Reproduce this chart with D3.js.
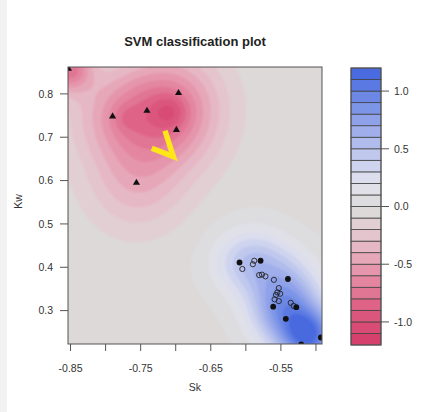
<!DOCTYPE html>
<html><head><meta charset="utf-8">
<script src="https://cdn.jsdelivr.net/npm/d3@7"></script>
<style>html,body{margin:0;padding:0;background:#fff;}svg{display:block;font-family:"Liberation Sans",Arial,sans-serif;}</style>
</head><body>
<script>
// ---- data ----
const xTicks = [-0.85, -0.80, -0.75, -0.70, -0.65, -0.60, -0.55, -0.50];
const xLabels = ["-0.85", "", "-0.75", "", "-0.65", "", "-0.55", ""];
const yTicks = [0.3, 0.4, 0.5, 0.6, 0.7, 0.8];
const yLabels = ["0.3", "0.4", "0.5", "0.6", "0.7", "0.8"];
const barTicks = [-1.0, -0.5, 0.0, 0.5, 1.0];
const barLabels = ["-1.0", "-0.5", "0.0", "0.5", "1.0"];
const levels = d3.range(-12, 13).map(d => d / 10); // -1.2 .. 1.2

// class "triangle" points (all support vectors)
const triSk = [-0.696, -0.741, -0.790, -0.699, -0.756, -0.853];
const triKw = [0.802, 0.761, 0.748, 0.717, 0.595, 0.858];
// class "circle" support vectors (filled)
const svSk = [-0.609, -0.579, -0.540, -0.561, -0.528, -0.543, -0.493, -0.521];
const svKw = [0.411, 0.415, 0.373, 0.309, 0.308, 0.281, 0.238, 0.222];
// class "circle" ordinary points (open)
const opSk = [-0.605, -0.590, -0.588, -0.581, -0.577, -0.572, -0.560, -0.553, -0.555, -0.557, -0.551, -0.559, -0.553, -0.536, -0.532];
const opKw = [0.396, 0.407, 0.415, 0.382, 0.383, 0.379, 0.371, 0.352, 0.342, 0.336, 0.339, 0.326, 0.322, 0.318, 0.311];

// decision function: kernel centres, coefficients, widths (px)
const kSk = [-0.696, -0.741, -0.790, -0.699, -0.756, -0.853, -0.708, -0.772,
             -0.609, -0.579, -0.540, -0.561, -0.528, -0.543, -0.493, -0.521, -0.511];
const kKw = [0.802, 0.761, 0.748, 0.717, 0.595, 0.858, 0.758, 0.745,
             0.411, 0.415, 0.373, 0.309, 0.308, 0.281, 0.238, 0.222, 0.244];
const kAlpha = [-0.29, -0.29, -0.29, -0.29, -0.32, -0.7, -0.2, -0.1,
                0.28, 0.28, 0.28, 0.28, 0.28, 0.28, 0.28, 0.28, 0.5];
const kWidth = [34, 34, 34, 34, 34, 16, 12, 10, 23, 23, 23, 23, 23, 23, 23, 23, 16];
const bias = -0.03;

// annotation (yellow check mark) in data coordinates
const markSk = [-0.7153, -0.7034, -0.7342];
const markKw = [0.715, 0.6553, 0.6747];

// palette stops
const palVals = [-1.2, -0.9, -0.6, -0.3, -0.05, 0.05, 0.2, 0.4, 0.7, 1.0, 1.2];
const palCols = ["#d43c68", "#dc5b81", "#e58ea6", "#e6bfca", "#ddd9d9", "#dddde0", "#e2e3ec", "#c8cfee", "#98a9ea", "#6380e3", "#4064de"];

// ---- layout ----
const W = 437, H = 412;
const plot = {l: 68, r: 322, t: 67, b: 344};
const bar = {l: 351, r: 381, t: 68, b: 345};

const svg = d3.select("body").append("svg").attr("width", W).attr("height", H);
svg.append("rect").attr("width", W).attr("height", H).attr("fill", "#fff");
svg.append("rect").attr("width", 7).attr("height", H).attr("fill", "#f2f2f2");

const x = d3.scaleLinear().domain([-0.8536, -0.4914]).range([plot.l, plot.r]);
const y = d3.scaleLinear().domain([0.223, 0.862]).range([plot.b, plot.t]);
const yb = d3.scaleLinear().domain([-1.2, 1.2]).range([bar.b, bar.t]);
const pal = d3.scaleLinear().domain(palVals).range(palCols).interpolate(d3.interpolateRgb).clamp(true);

function f(px, py) {
  let s = bias;
  for (let i = 0; i < kSk.length; i++) {
    const dx = px - x(kSk[i]), dy = py - y(kKw[i]);
    s += kAlpha[i] * Math.exp(-(dx * dx + dy * dy) / (2 * kWidth[i] * kWidth[i]));
  }
  return Math.max(-1.19, Math.min(1.19, s));
}

// grid
const step = 1.5;
const nx = Math.ceil((plot.r - plot.l) / step) + 1;
const ny = Math.ceil((plot.b - plot.t) / step) + 1;
const vals = new Array(nx * ny);
for (let j = 0; j < ny; j++) for (let i = 0; i < nx; i++) {
  vals[j * nx + i] = f(plot.l + i * step, plot.t + j * step);
}
const thresholds = levels.slice(1, -1);
const contours = d3.contours().size([nx, ny]).thresholds(thresholds)(vals);
const path = d3.geoPath(d3.geoIdentity().scale(step).translate([plot.l - step / 2, plot.t - step / 2]));

const defs = svg.append("defs");
defs.append("clipPath").attr("id", "pc").append("rect")
  .attr("x", plot.l).attr("y", plot.t).attr("width", plot.r - plot.l).attr("height", plot.b - plot.t);
defs.append("filter").attr("id", "bl").attr("x", "-5%").attr("y", "-5%").attr("width", "110%").attr("height", "110%")
  .append("feGaussianBlur").attr("stdDeviation", 0.9);

const gClip = svg.append("g").attr("clip-path", "url(#pc)");
const gField = gClip.append("g").attr("filter", "url(#bl)");
gField.append("rect").attr("x", plot.l - 5).attr("y", plot.t - 5)
  .attr("width", plot.r - plot.l + 10).attr("height", plot.b - plot.t + 10)
  .attr("fill", pal((levels[0] + levels[1]) / 2));
gField.selectAll("path.c").data(contours).join("path")
  .attr("d", path)
  .attr("fill", d => pal(d.value + 0.05));

// points
const gPts = gClip.append("g");
gPts.selectAll("path.tri").data(triSk.map((s, i) => [s, triKw[i]])).join("path")
  .attr("transform", d => `translate(${x(d[0])},${y(d[1])})`)
  .attr("d", d3.symbol(d3.symbolTriangle, 22))
  .attr("fill", "#111");
gPts.selectAll("circle.op").data(opSk.map((s, i) => [s, opKw[i]])).join("circle")
  .attr("cx", d => x(d[0])).attr("cy", d => y(d[1])).attr("r", 2.6)
  .attr("fill", "none").attr("stroke", "#222").attr("stroke-width", 0.9);
gPts.selectAll("circle.sv").data(svSk.map((s, i) => [s, svKw[i]])).join("circle")
  .attr("cx", d => x(d[0])).attr("cy", d => y(d[1])).attr("r", 2.9)
  .attr("fill", "#111");

// annotation
svg.append("path")
  .attr("d", d3.line()([[x(markSk[0]), y(markKw[0])], [x(markSk[1]), y(markKw[1])], [x(markSk[2]), y(markKw[2])]]))
  .attr("fill", "none").attr("stroke", "#ffe619").attr("stroke-width", 5.5).attr("stroke-linejoin", "miter");

// frame
svg.append("rect").attr("x", plot.l).attr("y", plot.t).attr("width", plot.r - plot.l).attr("height", plot.b - plot.t)
  .attr("fill", "none").attr("stroke", "#555").attr("stroke-width", 1);

// axes
const tc = "#555", txt = "#333";
const gx = svg.append("g");
gx.selectAll("line").data(xTicks).join("line")
  .attr("x1", d => x(d)).attr("x2", d => x(d)).attr("y1", plot.b).attr("y2", plot.b + 7)
  .attr("stroke", tc);
gx.selectAll("text").data(xTicks).join("text")
  .attr("x", d => x(d)).attr("y", 372).attr("text-anchor", "middle")
  .attr("font-size", 10.5).attr("fill", txt).text((d, i) => xLabels[i]);
const gy = svg.append("g");
gy.selectAll("line").data(yTicks).join("line")
  .attr("x1", plot.l - 8).attr("x2", plot.l).attr("y1", d => y(d)).attr("y2", d => y(d))
  .attr("stroke", tc);
gy.selectAll("text").data(yTicks).join("text")
  .attr("x", 53).attr("y", d => y(d) + 3.8).attr("text-anchor", "end")
  .attr("font-size", 10.5).attr("fill", txt).text((d, i) => yLabels[i]);

svg.append("text").attr("x", (plot.l + plot.r) / 2).attr("y", 391).attr("text-anchor", "middle")
  .attr("font-size", 10.5).attr("fill", txt).text("Sk");
svg.append("text").attr("transform", `translate(22,${(plot.t + plot.b) / 2 - 4}) rotate(-90)`)
  .attr("text-anchor", "middle").attr("font-size", 10.5).attr("fill", txt).text("Kw");
svg.append("text").attr("x", 195).attr("y", 46).attr("text-anchor", "middle")
  .attr("font-size", 13).attr("font-weight", "bold").attr("fill", "#222").text("SVM classification plot");

// colour bar
const gb = svg.append("g");
const bands = levels.slice(0, -1).map((v, i) => [v, levels[i + 1]]);
gb.selectAll("rect").data(bands).join("rect")
  .attr("x", bar.l).attr("width", bar.r - bar.l)
  .attr("y", d => yb(d[1])).attr("height", d => yb(d[0]) - yb(d[1]))
  .attr("fill", d => pal((d[0] + d[1]) / 2))
  .attr("stroke", "#444").attr("stroke-width", 0.8);
gb.append("rect").attr("x", bar.l).attr("y", bar.t).attr("width", bar.r - bar.l).attr("height", bar.b - bar.t)
  .attr("fill", "none").attr("stroke", "#555");
gb.selectAll("line.t").data(barTicks).join("line")
  .attr("x1", bar.r).attr("x2", bar.r + 8).attr("y1", d => yb(d)).attr("y2", d => yb(d)).attr("stroke", tc);
gb.selectAll("text").data(barTicks).join("text")
  .attr("x", bar.r + 13).attr("y", d => yb(d) + 3.8)
  .attr("font-size", 10.5).attr("fill", txt).text((d, i) => barLabels[i]);
</script>
</body></html>
